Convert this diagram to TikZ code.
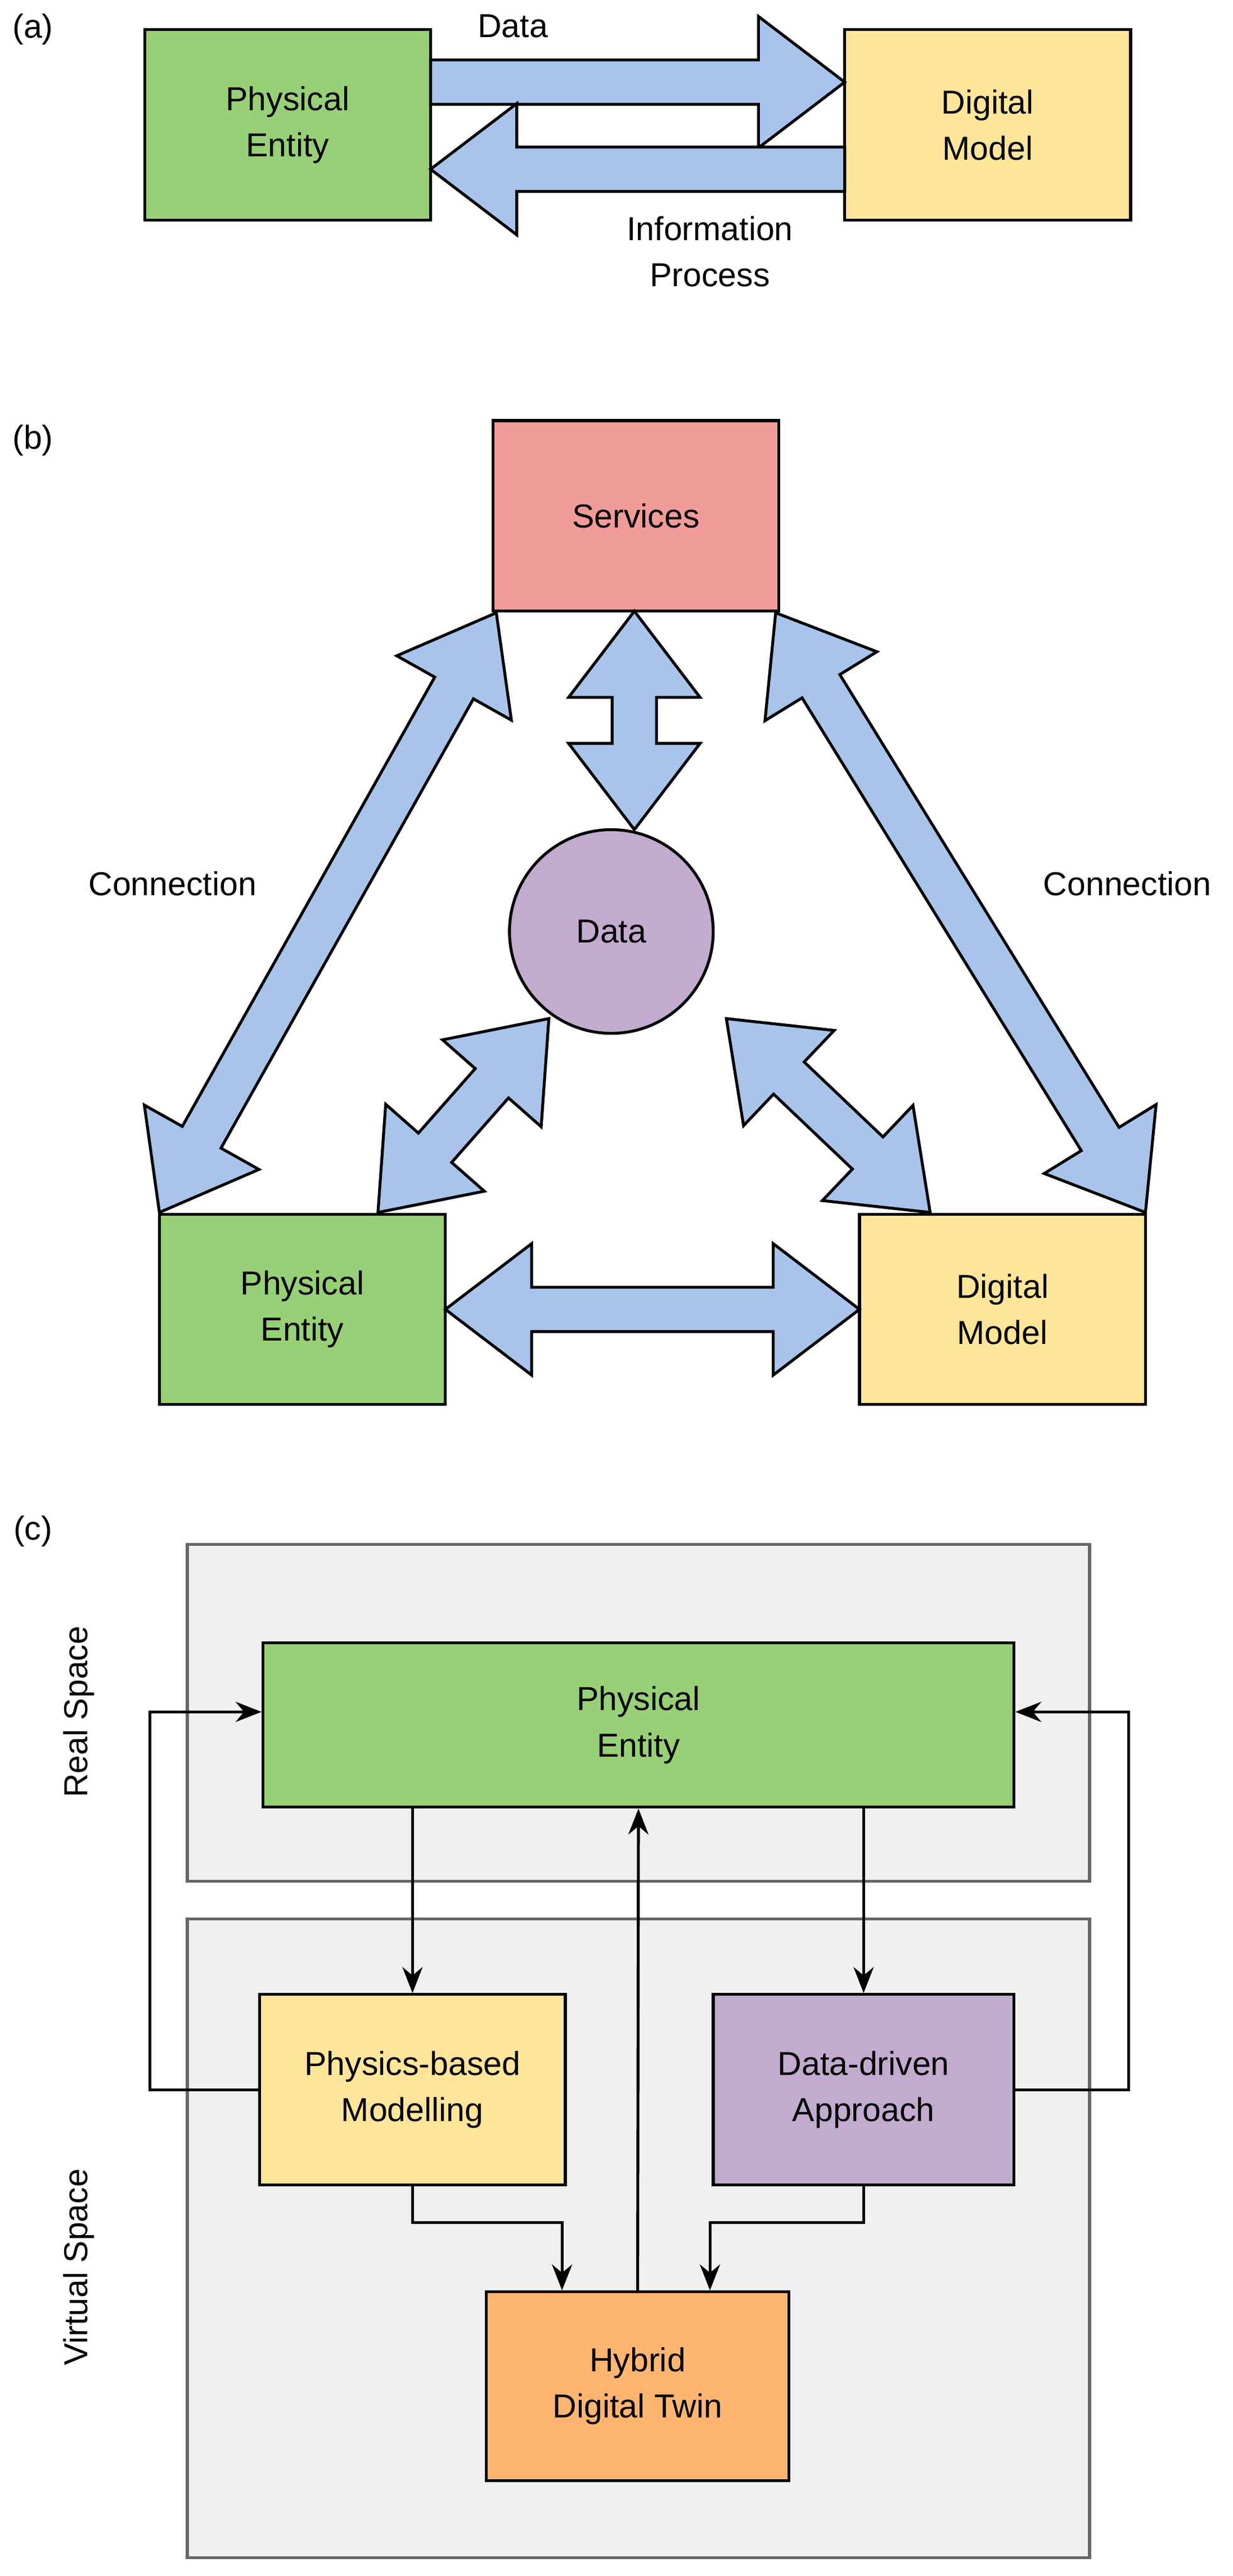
\documentclass[tikz,border=0pt]{standalone}
\usepackage{fontspec}
\setmainfont{Liberation Sans}
\usetikzlibrary{calc,arrows.meta}
\definecolor{pgreen}{HTML}{97D077}
\definecolor{pyellow}{HTML}{FFE599}
\definecolor{pred}{HTML}{F19C99}
\definecolor{ppurple}{HTML}{C3ABD0}
\definecolor{porange}{HTML}{FFB570}
\definecolor{pblue}{HTML}{A9C4EB}
\definecolor{pspace}{HTML}{F0F0F0}
\tikzset{
  box/.style={draw=black, line width=1pt, align=center, inner sep=0pt, font=\fontsize{11.5}{16}\selectfont},
  fat/.style={draw=black, fill=pblue, line width=1pt, line join=miter},
  space/.style={draw=black!60, fill=pspace, line width=1pt},
  lbl/.style={align=center, font=\fontsize{11.5}{16}\selectfont},
  conn/.style={line width=1pt, -{Stealth[length=9pt,width=7pt]}}
}
\def\arrs{0.27cm}
\def\arrw{0.8cm}
\def\arrl{1.05cm}
% fat single arrow from #1 to #2
\newcommand{\fatarrow}[2]{%
  \draw[fat] ($(#1)!\arrs!90:(#2)$)
    -- ($($(#2)!\arrl!(#1)$)!\arrs!90:(#2)$)
    -- ($($(#2)!\arrl!(#1)$)!\arrw!90:(#2)$)
    -- (#2)
    -- ($($(#2)!\arrl!(#1)$)!\arrw!-90:(#2)$)
    -- ($($(#2)!\arrl!(#1)$)!\arrs!-90:(#2)$)
    -- ($(#1)!\arrs!-90:(#2)$) -- cycle;}
% fat double arrow between #1 and #2
\newcommand{\fatdouble}[2]{%
  \draw[fat] (#1)
    -- ($($(#1)!\arrl!(#2)$)!\arrw!90:(#2)$)
    -- ($($(#1)!\arrl!(#2)$)!\arrs!90:(#2)$)
    -- ($($(#2)!\arrl!(#1)$)!\arrs!90:(#2)$)
    -- ($($(#2)!\arrl!(#1)$)!\arrw!90:(#2)$)
    -- (#2)
    -- ($($(#2)!\arrl!(#1)$)!\arrw!-90:(#2)$)
    -- ($($(#2)!\arrl!(#1)$)!\arrs!-90:(#2)$)
    -- ($($(#1)!\arrl!(#2)$)!\arrs!-90:(#2)$)
    -- ($($(#1)!\arrl!(#2)$)!\arrw!-90:(#2)$) -- cycle;}
\begin{document}
\begin{tikzpicture}[x=0.02cm, y=-0.02cm]
  \useasboundingbox[fill=white] (0,0) rectangle (750,1568);
  % (a)
  \node[lbl] (la) at (20,18) {(a)};
  \node[box, fill=pgreen, minimum width=3.48cm, minimum height=2.32cm] (pea) at (175,76) {Physical\\Entity};
  \node[box, fill=pyellow, minimum width=3.48cm, minimum height=2.32cm] (dma) at (601,76) {Digital\\Model};
  \coordinate (a1) at (262,50);
  \coordinate (a2) at (514,50);
  \coordinate (a3) at (514,103);
  \coordinate (a4) at (262,103);
  \fatarrow{a1}{a2}
  \fatarrow{a3}{a4}
  \node[lbl] (tda) at (312,16) {Data};
  \node[lbl] (tinfo) at (432,153) {Information\\Process};
  % (b)
  \node[lbl] (lb) at (20,268) {(b)};
  \node[box, fill=pred, minimum width=3.48cm, minimum height=2.32cm] (srv) at (387,314) {Services};
  \node[box, fill=ppurple, circle, minimum size=2.48cm] (dat) at (372,567) {Data};
  \node[box, fill=pgreen, minimum width=3.48cm, minimum height=2.32cm] (peb) at (184,797) {Physical\\Entity};
  \node[box, fill=pyellow, minimum width=3.48cm, minimum height=2.32cm] (dmb) at (610,797) {Digital\\Model};
  \coordinate (b1) at (386,372);
  \coordinate (b2) at (386,505);
  \coordinate (b3) at (302,373);
  \coordinate (b4) at (97,738);
  \coordinate (b5) at (472,373);
  \coordinate (b6) at (697,738);
  \coordinate (b7) at (334,620);
  \coordinate (b8) at (230,738);
  \coordinate (b9) at (442,620);
  \coordinate (b10) at (566,738);
  \coordinate (b11) at (271,797);
  \coordinate (b12) at (523,797);
  \fatdouble{b1}{b2}
  \fatdouble{b3}{b4}
  \fatdouble{b5}{b6}
  \fatdouble{b7}{b8}
  \fatdouble{b9}{b10}
  \fatdouble{b11}{b12}
  \node[lbl] (tcl) at (105,538) {Connection};
  \node[lbl] (tcr) at (686,538) {Connection};
  % (c)
  \node[lbl] (lc) at (20,932) {(c)};
  \draw[space] (114,940) rectangle (663,1145);
  \draw[space] (114,1168) rectangle (663,1557);
  \node[lbl, rotate=90] (treal) at (48,1042) {Real Space};
  \node[lbl, rotate=90] (tvirt) at (48,1380) {Virtual Space};
  \node[box, fill=pgreen, minimum width=9.14cm, minimum height=2cm] (pec) at (388.5,1050) {Physical\\Entity};
  \node[box, fill=pyellow, minimum width=3.72cm, minimum height=2.32cm] (phy) at (251,1272) {Physics-based\\Modelling};
  \node[box, fill=ppurple, minimum width=3.66cm, minimum height=2.32cm] (ddr) at (525.5,1272) {Data-driven\\Approach};
  \node[box, fill=porange, minimum width=3.68cm, minimum height=2.3cm] (hyb) at (388,1452.5) {Hybrid\\Digital Twin};
  \draw[conn] (pec.south -| phy) -- (phy.north);
  \draw[conn] (pec.south -| ddr) -- (ddr.north);
  \draw[conn] (phy.west) -- ++(-66,0) |- (pec.west |- 0,1042);
  \draw[conn] (ddr.east) -- ++(69,0) |- (pec.east |- 0,1042);
  \draw[conn] (phy.south) -- ++(0,22) -| (hyb.north -| 342,0);
  \draw[conn] (ddr.south) -- ++(0,22) -| (hyb.north -| 432,0);
  \draw[conn] (hyb.north) -- (pec.south);
\end{tikzpicture}
\end{document}
